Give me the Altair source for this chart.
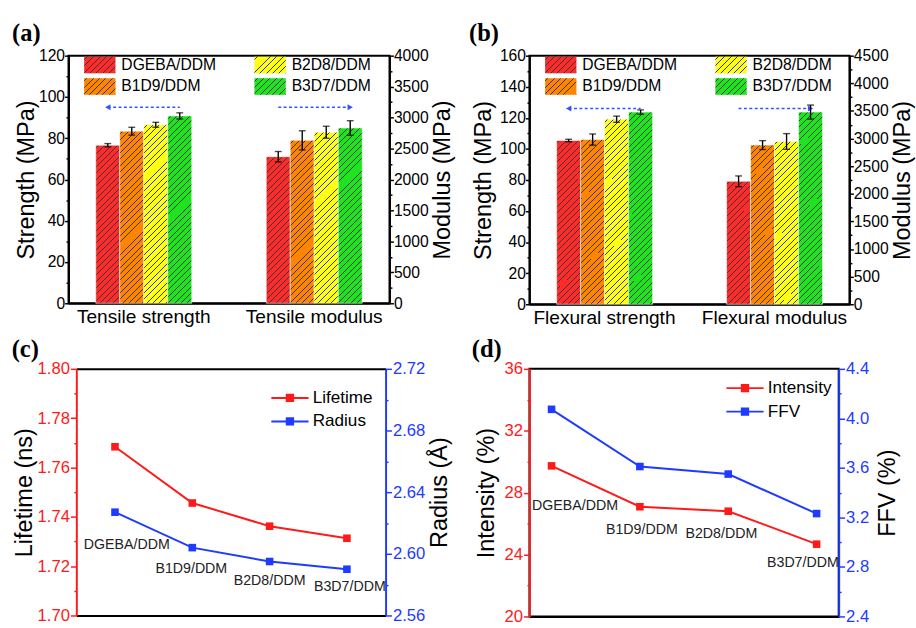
import altair as alt

FONT = "Liberation Sans"
SERIF = "Liberation Serif"
RED = "#ff1a1a"
BLUE = "#1f3bff"
INK = "#383838"
ARROW = "#3355ff"

# ---------------- data ----------------
series = ["DGEBA/DDM", "B1D9/DDM", "B2D8/DDM", "B3D7/DDM"]
bar_colors = {"DGEBA/DDM": "#ff2b2b", "B1D9/DDM": "#ff8400",
              "B2D8/DDM": "#ffff14", "B3D7/DDM": "#1ee41e"}

tensile_cats = ["Tensile strength", "Tensile modulus"]
tensile_strength = [76.6, 83.4, 86.5, 90.8]
tensile_strength_err = [0.8, 1.9, 1.2, 1.5]
tensile_modulus = [2368, 2632, 2763, 2832]
tensile_modulus_err = [84, 155, 97, 118]

flexural_cats = ["Flexural strength", "Flexural modulus"]
flexural_strength = [105.4, 106.0, 119.1, 123.7]
flexural_strength_err = [0.8, 3.6, 2.0, 1.4]
flexural_modulus = [2226, 2882, 2947, 3479]
flexural_modulus_err = [97, 80, 142, 127]

lifetime = [1.7684, 1.7456, 1.7362, 1.7313]
radius = [2.627, 2.604, 2.595, 2.590]
intensity = [29.73, 27.09, 26.80, 24.67]
ffv = [4.073, 3.611, 3.550, 3.231]

# ---------------- helpers ----------------
PI, PO = 0.437, 0.16


def tick_values(vmin, vmax, minor):
    n = int(round((vmax - vmin) / minor))
    return [round(vmin + i * minor, 6) for i in range(n + 1)]


def yaxis(orient, title, vmin, vmax, major, minor, fmt, color="black",
          title_pad=0, label_pad=0, label_size=16, tick=4, offset=0):
    test = f"abs(datum.value / {major} - round(datum.value / {major})) < 0.000001"
    extra = {"titleBaseline": "top"} if orient == "right" else {}
    if offset:
        extra["offset"] = offset
    return alt.Axis(
        orient=orient, title=title, values=tick_values(vmin, vmax, minor),
        format=fmt, labelExpr=f"({test}) ? datum.label : ''",
        tickSize=tick,
        tickDash={"condition": {"test": test, "value": [20, 1]}, "value": [2.5, 30]},
        labelOverlap=False, grid=False, domainColor=color, tickColor=color,
        labelColor=color, titleColor="black", labelPadding=label_pad,
        titlePadding=title_pad, titleAngle=270, labelFontSize=label_size,
        domainWidth=2, tickWidth=1.5, **extra,
    )


def hatch_stops(color, w, h, period=6.5, lw=1.0):
    L = w + h
    t = L / (w * w + h * h)
    stops = [(0, color)]
    pos = period * 0.4
    while pos < L:
        a = round(pos / L, 5)
        b = round(min((pos + lw) / L, 1), 5)
        stops += [(a, color), (a, INK), (b, INK), (b, color)]
        pos += period
    stops.append((1, color))
    return round(w * t, 5), round(h * t, 5), stops


def hatch(color, w, h):
    x2, y2, stops = hatch_stops(color, w, h)
    return {"gradient": "linear", "x1": 0, "y1": 0, "x2": x2, "y2": y2,
            "stops": [{"offset": o, "color": c} for o, c in stops]}


def hatch_expr(color, w, h):
    x2, y2, stops = hatch_stops(color, w, h)
    st = ",".join("{offset:%s,color:'%s'}" % (o, c) for o, c in stops)
    return alt.ExprRef(expr="{gradient:'linear',x1:0,y1:0,x2:%s,y2:%s,stops:[%s]}" % (x2, y2, st))


def panel_title(letter, offset, dx=-3):
    return alt.TitleParams(letter, anchor="start", frame="bounds", font=SERIF,
                           fontSize=25, fontWeight="bold", color="black",
                           dx=dx, offset=offset)


# legend symbol geometry for the bar panels: 32 x 17 px rectangle
LEG_H = 17
LEG_W = 32
LEG_K = LEG_W / LEG_H


def bar_panel(letter, cats, s_vals, s_err, m_vals, m_err, s_max, m_max,
              arrow_y, W, H, left_title_pad):
    step = W / (2 - PI + 2 * PO)
    bar_w = step * (1 - PI) / 4
    s_rows, m_rows = [], []
    for name, v, e in zip(series, s_vals, s_err):
        s_rows.append({"group": cats[0], "series": name, "value": v, "err": e,
                       "grad": hatch(bar_colors[name], bar_w, v / s_max * H)})
    for name, v, e in zip(series, m_vals, m_err):
        m_rows.append({"group": cats[1], "series": name, "value": v, "err": e,
                       "grad": hatch(bar_colors[name], bar_w, v / m_max * H)})

    x = alt.X("group:N", sort=cats,
              scale=alt.Scale(domain=cats, paddingInner=PI, paddingOuter=PO),
              axis=alt.Axis(title=None, labelAngle=0, ticks=False, tickSize=0,
                            labelFontSize=19.5, labelPadding=5,
                            domainColor="black", domainWidth=2))
    xo = alt.XOffset("series:N", sort=series,
                     scale=alt.Scale(domain=series, paddingInner=0, paddingOuter=0))

    s_scale = alt.Scale(domain=[0, s_max], nice=False, zero=True)
    m_scale = alt.Scale(domain=[0, m_max], nice=False, zero=True)
    s_axis = yaxis("left", "Strength (MPa)", 0, s_max, 20, 10, ".0f",
                   title_pad=left_title_pad)
    m_axis = yaxis("right", "Modulus (MPa)", 0, m_max, 500, 250, ".0f", title_pad=3)

    def group_layers(rows, scale, axis):
        base = alt.Chart(alt.Data(values=rows)).transform_calculate(
            lo="datum.value - datum.err", hi="datum.value + datum.err")
        bars = base.mark_bar(stroke="white", strokeWidth=0.8, strokeOpacity=0.7).encode(
            x=x, xOffset=xo,
            y=alt.Y("value:Q", scale=scale, axis=axis),
            fill=alt.Fill("grad:N", scale=None))
        rule = base.mark_rule(color="black", strokeWidth=1.4).encode(
            x=x, xOffset=xo, y=alt.Y("lo:Q", scale=scale, axis=axis), y2="hi:Q")
        cap_lo = base.mark_tick(color="black", thickness=1.4, size=7).encode(
            x=x, xOffset=xo, y=alt.Y("lo:Q", scale=scale, axis=axis))
        cap_hi = base.mark_tick(color="black", thickness=1.4, size=7).encode(
            x=x, xOffset=xo, y=alt.Y("hi:Q", scale=scale, axis=axis))
        return [bars, rule, cap_lo, cap_hi]

    # dashed arrows (in strength units)
    arrow_rows = [
        {"group": cats[0], "series": series[0], "ay": arrow_y},
        {"group": cats[0], "series": series[-1], "ay": arrow_y},
        {"group": cats[1], "series": series[0], "ay": arrow_y},
        {"group": cats[1], "series": series[-1], "ay": arrow_y},
    ]
    arrow_base = alt.Chart(alt.Data(values=arrow_rows))
    arrow_line = arrow_base.mark_line(color=ARROW, strokeWidth=1.6,
                                      strokeDash=[3, 2.5]).encode(
        x=x, xOffset=xo, y=alt.Y("ay:Q", scale=s_scale, axis=s_axis),
        detail="group:N")
    head_left = arrow_base.mark_point(shape="triangle-left", filled=True,
                                      color=ARROW, size=40, opacity=1).transform_filter(
        f"datum.group == '{cats[0]}' && datum.series == '{series[0]}'").encode(
        x=x, xOffset=xo, y=alt.Y("ay:Q", scale=s_scale, axis=s_axis))
    head_right = arrow_base.mark_point(shape="triangle-right", filled=True,
                                       color=ARROW, size=40, opacity=1).transform_filter(
        f"datum.group == '{cats[1]}' && datum.series == '{series[-1]}'").encode(
        x=x, xOffset=xo, y=alt.Y("ay:Q", scale=s_scale, axis=s_axis))

    half = LEG_K
    legend_layer = alt.Chart(alt.Data(values=[{"series": s} for s in series])).mark_square(
        filled=True, opacity=1).transform_filter("false").encode(
        color=alt.Color("series:N",
                        scale=alt.Scale(domain=series,
                                        range=[hatch_expr(bar_colors[s], LEG_W, LEG_H)
                                               for s in series]),
                        legend=alt.Legend(title=None, orient="none",
                                          legendX=16 + (LEG_W - LEG_H) / 2, legendY=1,
                                          columns=2, columnPadding=38, rowPadding=5,
                                          symbolType=f"M{-half:.4f},-1H{half:.4f}V1H{-half:.4f}Z",
                                          symbolSize=LEG_H * LEG_H, symbolStrokeWidth=0,
                                          labelFontSize=16,
                                          labelOffset=6 + (LEG_W - LEG_H) / 2,
                                          labelColor="black", padding=0)))

    left = alt.layer(*group_layers(s_rows, s_scale, s_axis), arrow_line, head_left,
                     head_right, legend_layer)
    right = alt.layer(*group_layers(m_rows, m_scale, m_axis))
    return alt.layer(left, right).resolve_scale(y="independent").properties(
        width=W, height=H, title=panel_title(letter, 2))


# legend symbol for the line panels: 38 px line with an 8.5 px square
LS = 17
LL = 38


def line_panel(letter, lvals, rvals, lname, rname, ldom, lmajor, lminor, lfmt, ltitle,
               rdom, rmajor, rminor, rfmt, rtitle, pad, label_side, nudges,
               legend_xy, W, H, ltp, rtp, title_dx, inset=0):
    recs = [{"cat": c, "lv": a, "rv": b} for c, a, b in zip(series, lvals, rvals)]
    base = alt.Chart(alt.Data(values=recs))
    if inset:
        xscale = alt.Scale(type="point", domain=series, padding=pad, range=[inset, W + inset])
    else:
        xscale = alt.Scale(type="point", domain=series, padding=pad)
    x = alt.X("cat:N", sort=series, scale=xscale,
              axis=alt.Axis(title=None, labels=False, ticks=False, tickSize=0,
                            domainColor="black", domainWidth=2, orient="bottom"))
    x_top = alt.X("cat:N", sort=series, scale=xscale,
                  axis=alt.Axis(title=None, labels=False, ticks=False, tickSize=0,
                                domainColor="black", domainWidth=2, orient="top"))
    cscale = alt.Scale(domain=[lname, rname], range=[RED, BLUE])
    hl = LL / LS
    lt = 1.9 / LS
    sq = 8.5 / LS
    path = (f"M{-hl:.4f},{-lt:.4f}H{hl:.4f}V{lt:.4f}H{-hl:.4f}Z "
            f"M{-sq:.4f},{-sq:.4f}H{sq:.4f}V{sq:.4f}H{-sq:.4f}Z")
    shift = (LL - LS) / 2
    legend = alt.Legend(title=None, orient="none", legendX=legend_xy[0] + shift + inset,
                        legendY=legend_xy[1], rowPadding=5,
                        symbolType=path, symbolSize=LS * LS, symbolStrokeWidth=0,
                        labelFontSize=17.5, labelOffset=4 + shift,
                        labelColor="black", padding=0)
    lscale = alt.Scale(domain=ldom, nice=False, zero=False)
    rscale = alt.Scale(domain=rdom, nice=False, zero=False)
    laxis = yaxis("left", ltitle, ldom[0], ldom[1], lmajor, lminor, lfmt, color=RED,
                  title_pad=ltp, label_pad=1, label_size=17, tick=6, offset=-inset)
    raxis = yaxis("right", rtitle, rdom[0], rdom[1], rmajor, rminor, rfmt, color=BLUE,
                  title_pad=rtp, label_pad=1, label_size=17, tick=6)

    def side(field, scale, axis, color, name, xe):
        y = alt.Y(f"{field}:Q", scale=scale, axis=axis)
        line = base.mark_line(color=color, strokeWidth=2).encode(x=xe, y=y)
        pts = base.mark_square(size=60, filled=True, opacity=1).transform_calculate(
            sn=f"'{name}'").encode(x=xe, y=y, color=alt.Color("sn:N", scale=cscale, legend=legend))
        return [line, pts]

    def labels(field, scale, axis, xe):
        out = []
        for c in series:
            dx, dy = nudges[c]
            out.append(base.mark_text(font=FONT, fontSize=14.5, color="#222222",
                                      dx=dx, dy=dy).transform_filter(
                f"datum.cat == '{c}'").encode(
                x=xe, y=alt.Y(f"{field}:Q", scale=scale, axis=axis), text="cat:N"))
        return out

    x_right = x_top if inset else x
    left_layers = side("lv", lscale, laxis, RED, lname, x)
    right_layers = side("rv", rscale, raxis, BLUE, rname, x_right)
    if label_side == "right":
        right_layers += labels("rv", rscale, raxis, x_right)
    else:
        left_layers += labels("lv", lscale, laxis, x)
    panel = alt.layer(alt.layer(*left_layers), alt.layer(*right_layers)).resolve_scale(
        y="independent")
    if inset:
        panel = panel.resolve_axis(x="independent").properties(
            view=alt.ViewBackground(stroke="transparent"))
    return panel.properties(width=W + inset, height=H,
                            title=panel_title(letter, -2, dx=title_dx))


pa = bar_panel("(a)", tensile_cats, tensile_strength, tensile_strength_err,
               tensile_modulus, tensile_modulus_err, 120, 4000, 95, 328, 253, 0)
pb = bar_panel("(b)", flexural_cats, flexural_strength, flexural_strength_err,
               flexural_modulus, flexural_modulus_err, 160, 4500, 126, 327, 254, 4)

nudge_c = {"DGEBA/DDM": (12, 34), "B1D9/DDM": (-1, 22), "B2D8/DDM": (0, 20), "B3D7/DDM": (3, 18)}
nudge_d = {"DGEBA/DDM": (24, 41), "B1D9/DDM": (2, 24), "B2D8/DDM": (-7, 23), "B3D7/DDM": (-14, 19)}

pc = line_panel("(c)", lifetime, radius, "Lifetime", "Radius", [1.70, 1.80], 0.02, 0.01,
                ".2f", "Lifetime (ns)", [2.56, 2.72], 0.04, 0.02, ".2f", "Radius (Å)",
                0.5, "right", nudge_c, (199, 21), 316, 252, 1, 3, -1, inset=8)
pd_ = line_panel("(d)", intensity, ffv, "Intensity", "FFV", [20, 36], 4, 2, ".0f",
                 "Intensity (%)", [2.4, 4.4], 0.4, 0.2, ".1f", "FFV (%)",
                 0.25, "left", nudge_d, (201, 11), 316, 253, 6, 7, -3)

row1 = alt.hconcat(pa, pb, spacing=12).resolve_scale(color="independent")
row2 = alt.hconcat(pc, pd_, spacing=18).resolve_scale(color="independent")

chart = alt.vconcat(row1, row2, spacing=8).resolve_scale(
    color="independent").properties(
    padding={"left": 10, "top": 14, "right": 0, "bottom": 0},
    background="white",
).configure_view(stroke="black", strokeWidth=2).configure_axis(
    labelFont=FONT, titleFont=FONT, titleFontSize=24, titleFontWeight="normal",
    labelColor="black",
).configure_legend(labelFont=FONT).configure_title(font=SERIF)

chart.save("out.html", embed_options={"renderer": "svg", "actions": False})
